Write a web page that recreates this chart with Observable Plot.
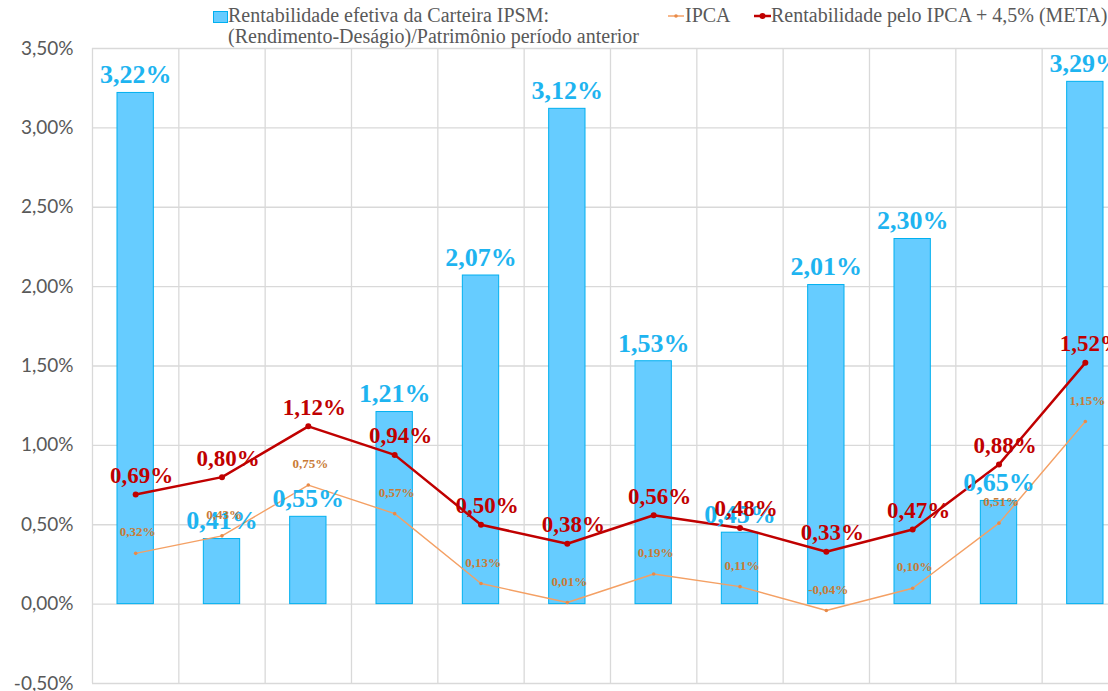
<!DOCTYPE html>
<html>
<head>
<meta charset="utf-8">
<script src="https://cdn.jsdelivr.net/npm/d3@7"></script>
<script src="https://cdn.jsdelivr.net/npm/@observablehq/plot@0.6"></script>
<style>
  html, body { margin: 0; padding: 0; background: #fff; overflow: hidden; width: 1108px; height: 691px; }
  #wrap { position: relative; width: 1130px; height: 691px; }
  #legend { position: absolute; left: 0; top: 0; width: 1130px; height: 46px; font-family: "Liberation Serif", "Times New Roman", serif; font-size: 20px; color: #595959; }
  .lg { position: absolute; white-space: nowrap; line-height: 21px; }
  svg { position: absolute; left: 0; top: 0; }
</style>
</head>
<body>
<div id="wrap">
  <div id="chart"></div>
  <div id="legend">
    <svg width="1130" height="46" style="position:absolute;left:0;top:0">
      <rect x="213.5" y="11.5" width="14" height="11" fill="#66CCFF" stroke="#00B0F0" stroke-width="1"></rect>
      <line x1="668" x2="684" y1="16" y2="16" stroke="#F4A064" stroke-width="1.5"></line>
      <circle cx="676" cy="16" r="1.8" fill="#E88A48"></circle>
      <line x1="754" x2="771" y1="16" y2="16" stroke="#C00000" stroke-width="2.5"></line>
      <circle cx="762.5" cy="16" r="3" fill="#C00000"></circle>
    </svg>
    <div class="lg" style="left:228px; top:5px;">Rentabilidade efetiva da Carteira IPSM:<br>(Rendimento-Deságio)/Patrimônio período anterior</div>
    <div class="lg" style="left:685px; top:5px;">IPCA</div>
    <div class="lg" style="left:771px; top:5px;">Rentabilidade pelo IPCA + 4,5% (META)</div>
  </div>
</div>
<script>
// Data (percent values), one entry per period (12 periods)
const periods = ["1","2","3","4","5","6","7","8","9","10","11","12"];
const carteira = [3.22, 0.41, 0.55, 1.21, 2.07, 3.12, 1.53, 0.45, 2.01, 2.30, 0.65, 3.29];
const ipca = [0.32, 0.43, 0.75, 0.57, 0.13, 0.01, 0.19, 0.11, -0.04, 0.10, 0.51, 1.15];
const meta = [0.69, 0.80, 1.12, 0.94, 0.50, 0.38, 0.56, 0.48, 0.33, 0.47, 0.88, 1.52];
const yTicks = [-0.5, 0, 0.5, 1, 1.5, 2, 2.5, 3, 3.5];

const fmt = v => v.toFixed(2).replace(".", ",") + "%";

const rows = periods.map((p, i) => ({
  p, i, carteira: carteira[i], ipca: ipca[i], meta: meta[i]
}));
const bounds = d3.range(periods.length + 1);

const chart = Plot.plot({
  width: 1130,
  height: 691,
  marginTop: 48,
  marginBottom: 8,
  marginLeft: 92,
  marginRight: 2,
  style: { background: "transparent", overflow: "visible" },
  x: { type: "linear", domain: [0, periods.length], axis: null },
  y: { domain: [-0.5, 3.5], ticks: yTicks, tickFormat: fmt, tickSize: 0, tickPadding: 19, label: null },
  marks: [
    Plot.ruleY(yTicks, { y: d => d, stroke: "#D9D9D9", strokeWidth: 1.3 }),
    Plot.ruleX(bounds, { x: d => d, stroke: "#D9D9D9", strokeWidth: 1.3 }),
    Plot.rectY(rows, { x1: d => d.i, x2: d => d.i + 1, y1: 0, y2: "carteira", insetLeft: 25, insetRight: 25, fill: "#66CCFF", stroke: "#00B0F0", strokeWidth: 1 }),
    Plot.line(rows, { x: d => d.i + 0.5, y: "ipca", stroke: "#F4A064", strokeWidth: 1.4 }),
    Plot.dot(rows, { x: d => d.i + 0.5, y: "ipca", r: 1.8, fill: "#E88A48", stroke: "none" }),
    Plot.line(rows, { x: d => d.i + 0.5, y: "meta", stroke: "#C00000", strokeWidth: 2.5 }),
    Plot.dot(rows, { x: d => d.i + 0.5, y: "meta", r: 3, fill: "#C00000", stroke: "none" }),
    Plot.text(rows, { x: d => d.i + 0.5, y: "carteira", text: d => fmt(d.carteira), dy: -18, fill: "#1EB4F0", fontSize: 26, fontWeight: "bold", fontFamily: "Liberation Serif", lineAnchor: "middle" }),
    Plot.text(rows, { x: d => d.i + 0.5, y: "ipca", text: d => fmt(d.ipca), dy: -21, dx: 2, fill: "#C97A35", fontSize: 13, fontWeight: "bold", fontFamily: "Liberation Serif", lineAnchor: "middle" }),
    Plot.text(rows, { x: d => d.i + 0.5, y: "meta", text: d => fmt(d.meta), dy: -19, dx: 6, fill: "#C00000", fontSize: 23, fontWeight: "bold", fontFamily: "Liberation Serif", lineAnchor: "middle" })
  ]
});
chart.querySelectorAll("g[aria-label='y-axis tick label']").forEach(g => {
  g.setAttribute("fill", "#595959");
  g.setAttribute("font-size", "19");
  g.setAttribute("font-family", "Lato, 'Open Sans', sans-serif");
});
document.getElementById("chart").appendChild(chart);
</script>
</body>
</html>
